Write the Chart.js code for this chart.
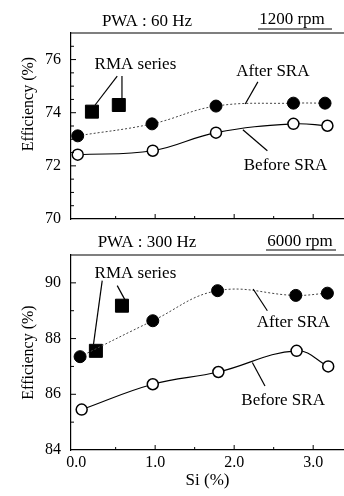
<!DOCTYPE html>
<html><head><meta charset="utf-8">
<script src="https://cdn.jsdelivr.net/npm/chart.js@4"></script>
<style>
html,body{margin:0;padding:0;background:#fff;overflow:hidden;width:344px;height:496px;}
#w1{position:absolute;left:0;top:0;width:344px;height:240px;}
#w2{position:absolute;left:0;top:220px;width:344px;height:276px;}
</style></head><body>
<div id="w1"><canvas id="c1"></canvas></div>
<div id="w2"><canvas id="c2"></canvas></div>
<script>
// ---- data ----
const siTicks = [0, 1, 2, 3];
const siTickLabels = ['0.0', '1.0', '2.0', '3.0'];
const topYTicks = [70, 72, 74, 76];
const botYTicks = [84, 86, 88, 90];

// 60 Hz / 1200 rpm
const siAfterTop = [0.02, 0.96, 1.77, 2.75, 3.15];
const effAfterTop = [73.13, 73.58, 74.25, 74.36, 74.36];
const siBeforeTop = [0.02, 0.97, 1.77, 2.75, 3.18];
const effBeforeTop = [72.42, 72.57, 73.25, 73.58, 73.51];
const siRmaTop = [0.20, 0.54];
const effRmaTop = [74.04, 74.29];

// 300 Hz / 6000 rpm
const siAfterBot = [0.05, 0.97, 1.79, 2.78, 3.18];
const effAfterBot = [87.35, 88.64, 89.72, 89.55, 89.63];
const siBeforeBot = [0.07, 0.97, 1.80, 2.79, 3.19];
const effBeforeBot = [85.45, 86.36, 86.8, 87.56, 87.0];
const siRmaBot = [0.25, 0.58];
const effRmaBot = [87.56, 89.18];

const FONT = "'Liberation Serif', 'Times New Roman', serif";
const pts = (xs, ys) => xs.map((x, i) => ({x: x, y: ys[i]}));

function datasets(sa, ea, sb, eb, sr, er) {
  return [
    {label: 'After SRA', data: pts(sa, ea), borderColor: '#444', borderWidth: 1, borderDash: [2, 2],
     tension: 0.4, pointStyle: 'circle', pointRadius: 6, pointBackgroundColor: '#000', pointBorderColor: '#000', clip: false},
    {label: 'Before SRA', data: pts(sb, eb), borderColor: '#000', borderWidth: 1.1,
     tension: 0.4, pointStyle: 'circle', pointRadius: 5.5, pointBackgroundColor: '#fff', pointBorderColor: '#000', pointBorderWidth: 1.5, clip: false},
    {label: 'RMA series', data: pts(sr, er), showLine: false, pointStyle: 'rect', pointRadius: 9.2,
     pointBackgroundColor: '#000', pointBorderColor: '#000', clip: false}
  ];
}

const decoPlugin = {
  id: 'deco',
  afterDraw(chart, args, o) {
    const ctx = chart.ctx, a = chart.chartArea, xs = chart.scales.x, ys = chart.scales.y;
    ctx.save();
    ctx.strokeStyle = '#000'; ctx.lineWidth = 1.2;
    // top frame line
    ctx.beginPath(); ctx.moveTo(a.left, a.top); ctx.lineTo(a.right + 5, a.top); ctx.stroke();
    // inward ticks
    ctx.lineWidth = 1;
    for (let v = 0.5; v <= xs.max; v += 0.5) {
      const px = xs.getPixelForValue(v), len = (Math.abs(v - Math.round(v)) < 1e-6) ? 5 : 3;
      ctx.beginPath(); ctx.moveTo(px, a.bottom); ctx.lineTo(px, a.bottom - len); ctx.stroke();
    }
    for (let v = ys.min + o.yMinor; v < ys.max; v += o.yMinor) {
      const py = ys.getPixelForValue(v), len = (Math.abs(v % 2) < 1e-6) ? 5 : 3;
      ctx.beginPath(); ctx.moveTo(a.left, py); ctx.lineTo(a.left + len, py); ctx.stroke();
    }
    // leader lines
    ctx.lineWidth = 1.2;
    o.lines.forEach(l => {
      ctx.beginPath();
      ctx.moveTo(xs.getPixelForValue(l[0]), ys.getPixelForValue(l[1]));
      ctx.lineTo(xs.getPixelForValue(l[2]), ys.getPixelForValue(l[3]));
      ctx.stroke();
    });
    ctx.fillStyle = '#000';
    ctx.font = '17px ' + FONT;
    ctx.textAlign = 'center'; ctx.textBaseline = 'middle';
    o.texts.forEach(t => ctx.fillText(t.t, xs.getPixelForValue(t.x), ys.getPixelForValue(t.y)));
    o.headers.forEach(h => {
      ctx.fillText(h.t, h.x, h.y);
      if (h.ul) { ctx.beginPath(); ctx.moveTo(h.ul[0], h.ul[2]); ctx.lineTo(h.ul[1], h.ul[2]); ctx.stroke(); }
    });
    if (o.ytitle) {
      ctx.font = '16px ' + FONT;
      ctx.translate(o.ytitle.x, o.ytitle.y); ctx.rotate(-Math.PI / 2);
      ctx.fillText(o.ytitle.t, 0, 0);
    }
    ctx.restore();
  }
};

function makeChart(id, ds, yMin, yMax, yTicks, padTop, xH, showX, deco, yTitleOpt) {
  return new Chart(document.getElementById(id), {
    type: 'line',
    data: {datasets: ds},
    plugins: [decoPlugin],
    options: {
      responsive: true, maintainAspectRatio: false, animation: false, devicePixelRatio: 1,
      layout: {autoPadding: false, padding: {top: padTop, left: 0, right: 0, bottom: 0}},
      plugins: {legend: {display: false}, tooltip: {enabled: false}, deco: deco},
      scales: {
        x: {
          type: 'linear', min: -0.065, max: 3.39,
          afterBuildTicks: s => { s.ticks = siTicks.map(v => ({value: v})); },
          afterFit: s => { s.height = xH; },
          ticks: {display: showX, autoSkip: false, maxRotation: 0, padding: 3, color: '#000',
                  font: {family: FONT, size: 16}, callback: (v, i) => siTickLabels[i]},
          grid: {display: false, drawTicks: false},
          border: {display: true, color: '#000', width: 1.2},
          title: {display: showX, text: 'Si (%)', color: '#000', font: {family: FONT, size: 17}, padding: {top: 0, bottom: 5}}
        },
        y: {
          type: 'linear', min: yMin, max: yMax,
          afterBuildTicks: s => { s.ticks = yTicks.map(v => ({value: v})); },
          afterFit: s => { s.width = 71; },
          ticks: {padding: 10, color: '#000', font: {family: FONT, size: 16}},
          grid: {display: false, drawTicks: false},
          border: {display: true, color: '#000', width: 1.2},
          title: yTitleOpt
        }
      }
    }
  });
}

makeChart('c1', datasets(siAfterTop, effAfterTop, siBeforeTop, effBeforeTop, siRmaTop, effRmaTop),
  70, 77, topYTicks, 33, 21, false,
  {
    yMinor: 0.5,
    texts: [{t: 'RMA series', x: 0.75, y: 75.82}, {t: 'After SRA', x: 2.49, y: 75.56}, {t: 'Before SRA', x: 2.65, y: 72.0}],
    lines: [[0.52, 75.38, 0.24, 74.29], [0.58, 75.38, 0.58, 74.55], [2.30, 75.16, 2.14, 74.33], [2.42, 72.57, 2.11, 73.36]],
    headers: [{t: 'PWA : 60 Hz', x: 147, y: 22}, {t: '1200 rpm', x: 292, y: 20, ul: [258, 332, 29]}],
    ytitle: {t: 'Efficiency (%)', x: 29, y: 104}
  },
  {display: false});

makeChart('c2', datasets(siAfterBot, effAfterBot, siBeforeBot, effBeforeBot, siRmaBot, effRmaBot),
  84, 91, botYTicks, 35, 46, true,
  {
    yMinor: 1,
    texts: [{t: 'RMA series', x: 0.75, y: 90.32}, {t: 'After SRA', x: 2.75, y: 88.59}, {t: 'Before SRA', x: 2.62, y: 85.76}],
    lines: [[0.33, 90.08, 0.22, 87.8], [0.52, 89.9, 0.62, 89.38], [2.24, 89.78, 2.42, 89.0], [2.23, 87.14, 2.39, 86.3]],
    headers: [{t: 'PWA : 300 Hz', x: 147, y: 23}, {t: '6000 rpm', x: 300, y: 22, ul: [266, 336, 30]}],
    ytitle: null
  },
  {display: true, text: 'Efficiency (%)', color: '#000', font: {family: FONT, size: 16}, padding: {top: 19, bottom: 0}});
</script>
</body></html>
